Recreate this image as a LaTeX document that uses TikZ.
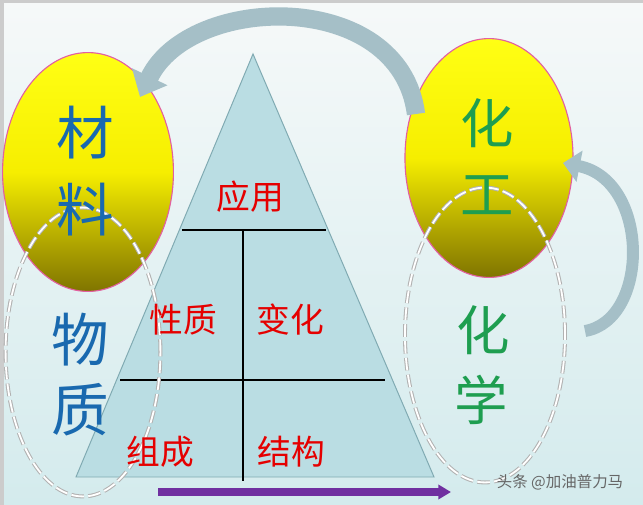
\documentclass[tikz,border=0pt]{standalone}
\usepackage{fontspec}
\setmainfont{Noto Sans CJK SC}
\usepackage{tikz}
\usetikzlibrary{arrows.meta,shapes.geometric}
\definecolor{bgtop}{RGB}{246,249,249}
\definecolor{bgbot}{RGB}{212,235,237}
\definecolor{pyrfill}{RGB}{186,221,227}
\definecolor{pyredge}{RGB}{128,170,178}
\definecolor{eggtop}{RGB}{255,255,20}
\definecolor{eggmid}{RGB}{246,238,0}
\definecolor{eggbot}{RGB}{128,116,0}
\definecolor{eggedge}{RGB}{226,96,160}
\definecolor{matblue}{RGB}{25,105,175}
\definecolor{chemgreen}{RGB}{30,158,80}
\definecolor{loopgrey}{RGB}{165,191,199}
\definecolor{axispurple}{RGB}{112,48,160}
\pgfdeclareverticalshading{eggshade}{100bp}{color(0bp)=(eggbot); color(25bp)=(eggbot); color(50bp)=(eggmid); color(75bp)=(eggtop); color(100bp)=(eggtop)}

\begin{document}
\begin{tikzpicture}[x=0.025cm,y=-0.025cm]
	\tikzstyle{egg}=[ellipse, draw=eggedge, line width=0.8pt, shading=eggshade, minimum width=4.27cm, minimum height=5.97cm, inner sep=0pt]
	\tikzstyle{ring}=[ellipse, draw=gray!60, double=white, double distance=1.3pt, line width=0.75pt, dash pattern=on 9pt off 3pt, inner sep=0pt]
	\tikzstyle{part}=[text=red!90!black, font=\fontsize{24}{24}\selectfont, inner sep=0pt]
	\tikzstyle{big}=[font=\fontsize{41}{41}\selectfont, inner sep=0pt]
	\tikzstyle{loop}=[draw=loopgrey, line width=13pt]
	% background and frame
	\shade[top color=bgtop, bottom color=bgbot] (0,0) rectangle (643,505);
	\fill[gray!40] (0,0) rectangle (643,3);
	\fill[gray!40] (0,0) rectangle (4,505);
	\useasboundingbox (0,0) rectangle (643,505);
	% pyramid
	\coordinate (apex) at (253,54);
	\coordinate (baseL) at (76,477);
	\coordinate (baseR) at (434,477);
	\draw[fill=pyrfill, draw=pyredge, line width=0.7pt] (apex) -- (baseL) -- (baseR) -- cycle;
	\draw[line width=1.2pt] (182,230) -- (326,230);
	\draw[line width=1.2pt] (120,380) -- (385,380);
	\draw[line width=1.2pt] (243,230) -- (243,481);
	% time axis
	\coordinate (axisL) at (158,492);
	\coordinate (axisR) at (451,492);
	\draw[axispurple, line width=5.6pt, -{Triangle[width=10pt,length=9pt]}] (axisL) -- (axisR);
	% the four circles
	\node[egg] (cailiao) at (88,172) {};
	\node[egg, minimum width=4.2cm] (huagong) at (489,158) {};
	\node[ring, minimum width=3.87cm, minimum height=7.22cm] (wuzhi) at (83,352) {};
	\node[ring, minimum width=4cm, minimum height=7.37cm] (huaxue) at (485,335) {};
	\foreach \i/\x/\y/\word in {1/250/197/应用,2/183/320/性质,3/290/320/变化,4/160/452/组成,5/291/452/结构} {
	    \node[part] (part\i) at (\x,\y) {\word};
	}
	\foreach \i/\x/\y/\word in {1/85/133/材,2/85/210/料,3/80/340/物,4/80/410/质} {
	    \node[big, text=matblue] (left\i) at (\x,\y) {\word};
	}
	\foreach \i/\x/\y/\word in {1/487/123/化,2/487/195/工,3/483/330/化,4/481/400/学} {
	    \node[big, text=chemgreen, font=\fontsize{38}{38}\selectfont] (right\i) at (\x,\y) {\word};
	}
	% curved arrows
	\coordinate (loopA) at (416,114);
	\coordinate (loopB) at (140,97);
	\draw[loop, -{Triangle[width=27pt,length=16pt]}] (loopA) .. controls (400,-12) and (190,-7) .. (loopB);
	\coordinate (backA) at (585,331);
	\coordinate (backB) at (563,163);
	\draw[loop, line width=8.5pt, -{Triangle[width=22pt,length=12pt]}] (backA) .. controls (650,320) and (650,180) .. (backB);
	\node[text=black!60, font=\fontsize{11}{11}\selectfont] (mark) at (560,482) {头条 @加油普力马};
\end{tikzpicture}
\end{document}
